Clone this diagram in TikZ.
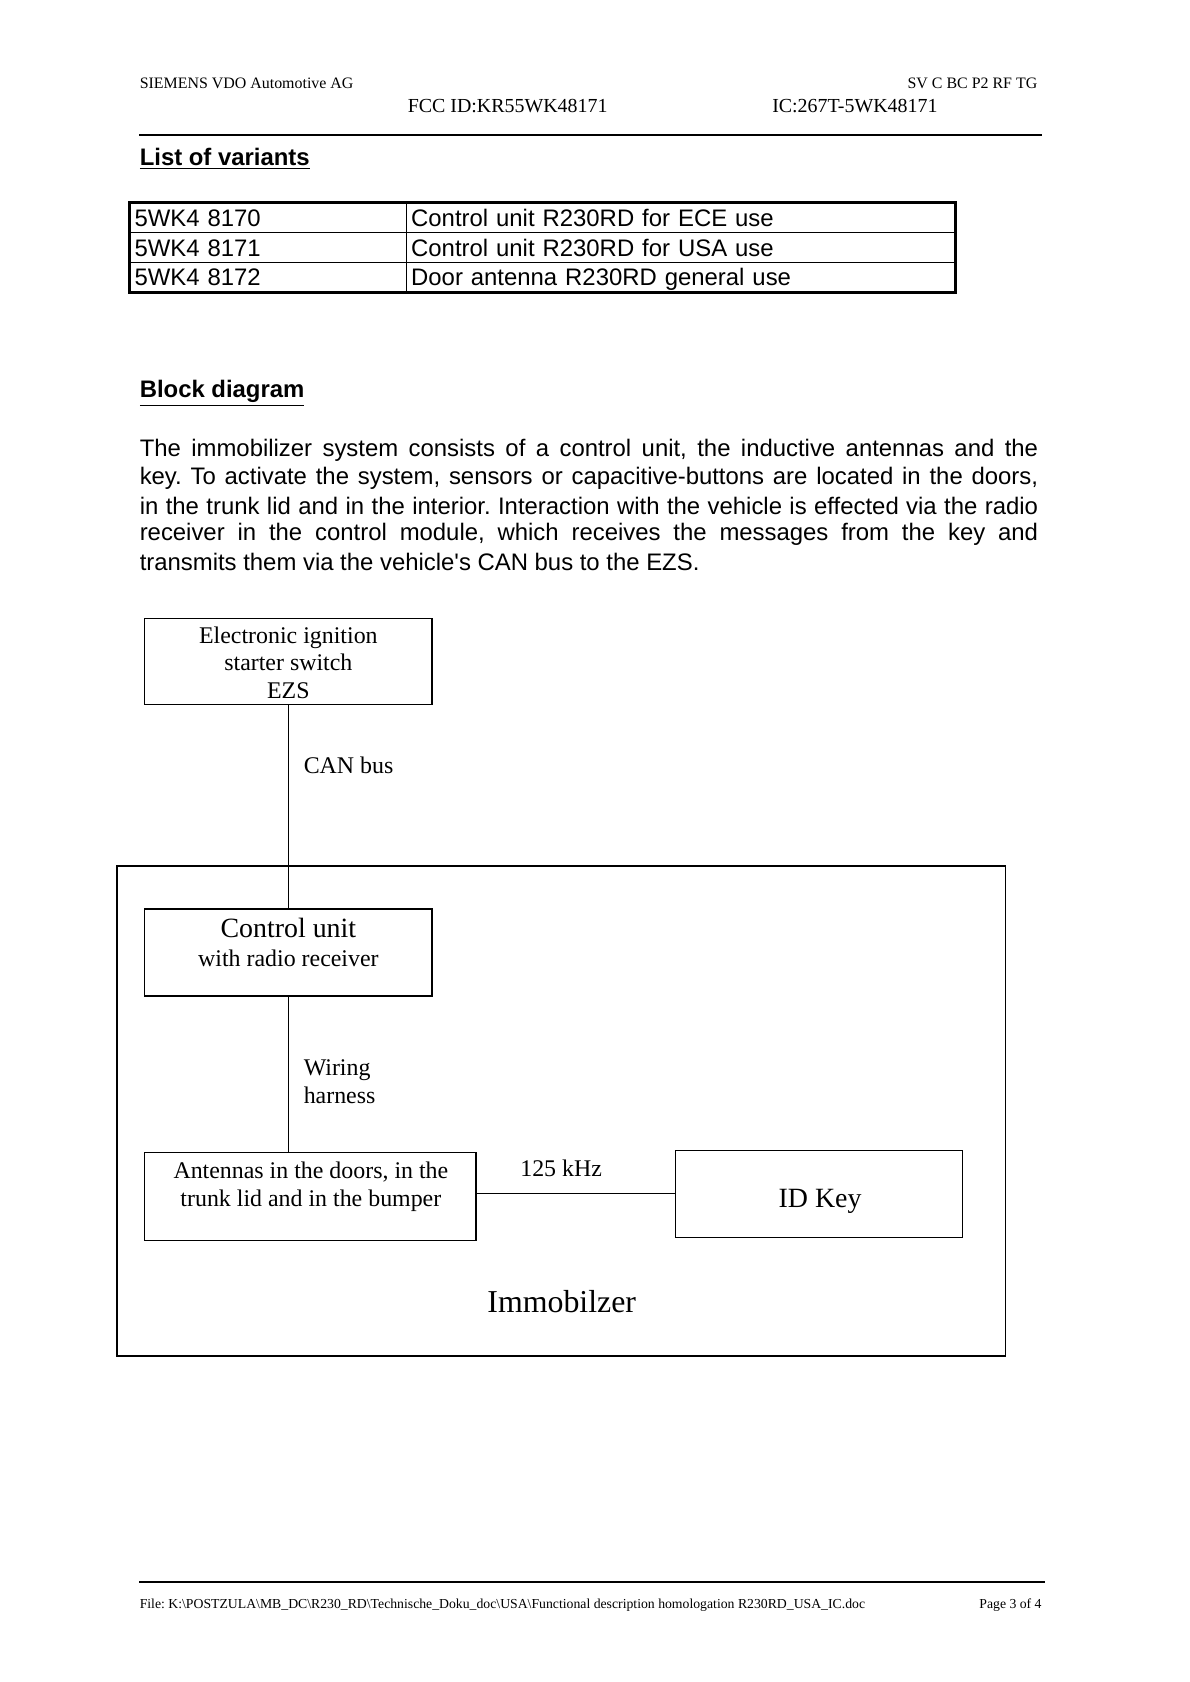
\documentclass[tikz,border=0pt]{standalone}
\usepackage{fontspec}
\setmainfont{Liberation Serif}
\newfontfamily\arialf{Liberation Sans}
\newdimen\pxu \pxu=0.018919cm
\frenchspacing
\begin{document}
\begin{tikzpicture}[x=0.018919cm,y=-0.018919cm,
  hdr/.style={font=\fontsize{8}{9.5}\selectfont, inner sep=0},
  ftr/.style={font=\fontsize{6.9}{8}\selectfont, inner sep=0},
  ttl/.style={font=\arialf\bfseries\fontsize{12}{14}\selectfont, inner sep=0, anchor=west},
  para/.style={font=\arialf\fontsize{12}{14}\selectfont, inner sep=0, anchor=west},
  cell/.style={draw, line width=0.6pt, font=\arialf\fontsize{12}{14}\selectfont, anchor=north west, minimum height=27.67\pxu, inner xsep=4\pxu, inner ysep=0pt, align=left, text height=10.9pt, text depth=2.4pt},
  box/.style={draw, line width=0.6pt, inner sep=0pt},
  txt/.style={font=\fontsize{12}{13.9}\selectfont, inner sep=0, align=center},
  lbl/.style={font=\fontsize{12}{13.9}\selectfont, inner sep=0, anchor=west, align=left},
  conn/.style={line width=0.6pt}]
\useasboundingbox (0,0) rectangle (1110,1569);
\fill[white] (0,0) rectangle (1110,1569);
% header
\node[hdr, anchor=west] (h1) at (130,78) {SIEMENS VDO Automotive AG};
\node[hdr, anchor=east] (h2) at (968,78) {SV C BC P2 RF TG};
\node[hdr, anchor=west, font=\fontsize{10}{11}\selectfont] (h3) at (380,99) {FCC ID:KR55WK48171};
\node[hdr, anchor=west, font=\fontsize{10}{11}\selectfont] (h4) at (720,99) {IC:267T-5WK48171};
\coordinate (hl1) at (130,126);
\coordinate (hl2) at (972,126);
\draw[line width=1.1pt] (hl1) -- (hl2);
% list of variants
\node[ttl] (t1) at (130,148) {\underline{List of variants}};
\node[cell, text width=250\pxu] (c11) at (121,189) {5WK4 8170};
\node[cell, text width=503\pxu] (c12) at (379,189) {Control unit R230RD for ECE use};
\node[cell, text width=250\pxu] (c21) at (121,216.67) {5WK4 8171};
\node[cell, text width=503\pxu] (c22) at (379,216.67) {Control unit R230RD for USA use};
\node[cell, text width=250\pxu] (c31) at (121,244.33) {5WK4 8172};
\node[cell, text width=503\pxu] (c32) at (379,244.33) {Door antenna R230RD general use};
\draw[line width=1.4pt] (c11.north west) rectangle (c32.south east);
% block diagram
\node[ttl] (t2) at (130,367) {\underline{Block diagram}};
\node[para] (p1) at (130,420) {\makebox[838\pxu][s]{The immobilizer system consists of a control unit, the inductive antennas and the}};
\node[para] (p2) at (130,446) {\makebox[838\pxu][s]{key. To activate the system, sensors or capacitive-buttons are located in the doors,}};
\node[para] (p3) at (130,472) {\makebox[838\pxu][s]{in the trunk lid and in the interior. Interaction with the vehicle is effected via the radio}};
\node[para] (p4) at (130,498) {\makebox[838\pxu][s]{receiver in the control module, which receives the messages from the key and}};
\node[para] (p5) at (130,524) {transmits them via the vehicle's CAN bus to the EZS.};
% diagram
\node[box, minimum width=268\pxu, minimum height=80\pxu] (ezs) at (269,617) {};
\node[txt] (ezst) at (269,618) {Electronic ignition\\starter switch\\EZS};
\node[box, line width=0.9pt, minimum width=829\pxu, minimum height=457\pxu] (imm) at (523.5,1036.5) {};
\node[box, minimum width=268\pxu, minimum height=81\pxu] (cu) at (269,888.5) {};
\node[txt, font=\fontsize{14}{16}\selectfont] (cut1) at (269,866) {Control unit};
\node[txt] (cut2) at (269,894) {with radio receiver};
\node[box, minimum width=309\pxu, minimum height=82\pxu] (ant) at (289.5,1116) {};
\node[txt] (antt) at (290,1107) {Antennas in the doors, in the\\trunk lid and in the bumper};
\node[box, minimum width=268\pxu, minimum height=81\pxu] (key) at (764,1113.5) {};
\node[txt, font=\fontsize{14}{16}\selectfont] (keyt) at (765,1121) {ID Key};
\node[txt, font=\fontsize{16}{18}\selectfont] (immt) at (524,1214) {Immobilzer};
\draw[conn] (ezs.south) -- (cu.north);
\draw[conn] (cu.south) -- (cu.south |- ant.north);
\draw[conn] (ant.east |- key.west) -- (key.west);
\node[lbl] (can) at (283,714) {CAN bus};
\node[lbl] (wir) at (283,1009) {Wiring\\harness};
\node[lbl] (khz) at (485,1090) {125 kHz};
% footer
\coordinate (fl1) at (130,1476);
\coordinate (fl2) at (975,1476);
\draw[line width=1.1pt] (fl1) -- (fl2);
\node[ftr, anchor=west] (f1) at (130,1497) {File: K:\textbackslash POSTZULA\textbackslash MB\_DC\textbackslash R230\_RD\textbackslash Technische\_Doku\_doc\textbackslash USA\textbackslash Functional description homologation R230RD\_USA\_IC.doc};
\node[ftr, anchor=east] (f2) at (972,1497) {Page 3 of 4};
\end{tikzpicture}
\end{document}
